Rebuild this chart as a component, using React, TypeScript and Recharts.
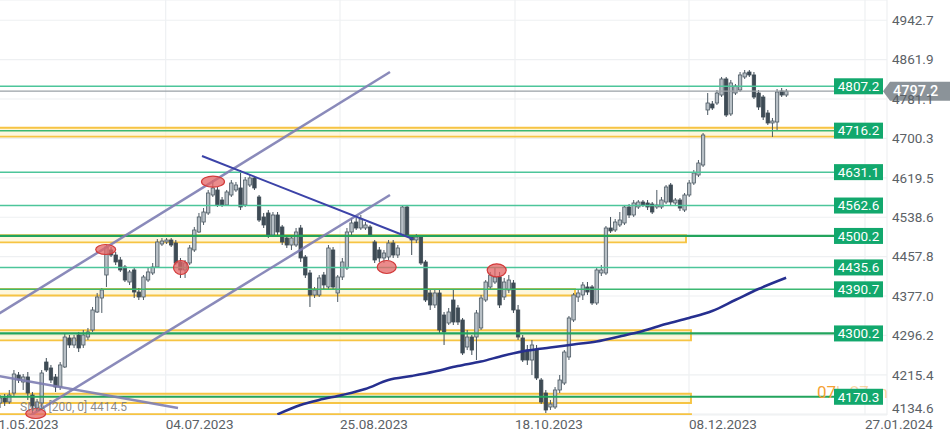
import React from "react";
import {
  Bar,
  CartesianGrid,
  ComposedChart,
  Line,
  ReferenceArea,
  ReferenceDot,
  ReferenceLine,
  XAxis,
  YAxis,
} from "recharts";

// daily candles, [open, high, low, close], first one is bar index -1
const FIRST_INDEX = -1;
const ohlc: [number, number, number, number][] = [
  [4157.5, 4173.9, 4147.3, 4167.8],
  [4167.8, 4176.0, 4151.4, 4159.6],
  [4159.6, 4184.2, 4155.5, 4173.9],
  [4178.0, 4225.2, 4172.0, 4217.0],
  [4214.9, 4221.1, 4198.5, 4204.7],
  [4200.6, 4217.0, 4184.2, 4210.9],
  [4210.9, 4221.1, 4163.7, 4178.0],
  [4173.9, 4180.1, 4137.0, 4151.4],
  [4147.3, 4165.7, 4139.1, 4159.6],
  [4157.5, 4225.2, 4147.3, 4219.1],
  [4241.6, 4249.8, 4221.1, 4225.2],
  [4229.3, 4235.5, 4198.5, 4204.7],
  [4210.9, 4217.0, 4180.1, 4190.3],
  [4190.3, 4241.6, 4184.2, 4235.5],
  [4231.4, 4299.1, 4229.3, 4292.9],
  [4290.9, 4297.0, 4270.4, 4276.5],
  [4276.5, 4297.0, 4270.4, 4290.9],
  [4297.0, 4303.2, 4262.1, 4270.4],
  [4276.5, 4307.3, 4270.4, 4297.0],
  [4292.9, 4311.4, 4286.8, 4303.2],
  [4307.3, 4354.5, 4303.2, 4348.3],
  [4344.2, 4383.2, 4342.2, 4375.0],
  [4372.9, 4393.4, 4342.2, 4389.3],
  [4420.1, 4481.6, 4395.5, 4477.5],
  [4471.4, 4477.5, 4457.0, 4461.1],
  [4461.1, 4467.3, 4440.6, 4446.8],
  [4450.9, 4457.0, 4426.3, 4430.4],
  [4436.5, 4440.6, 4405.7, 4409.8],
  [4405.7, 4430.4, 4399.6, 4426.3],
  [4430.4, 4436.5, 4372.9, 4385.2],
  [4385.2, 4393.4, 4368.8, 4375.0],
  [4375.0, 4420.1, 4368.8, 4416.0],
  [4409.8, 4434.5, 4405.7, 4426.3],
  [4424.2, 4444.7, 4420.1, 4436.5],
  [4436.5, 4493.9, 4434.5, 4487.8],
  [4483.7, 4496.0, 4479.6, 4489.8],
  [4487.8, 4496.0, 4483.7, 4491.9],
  [4491.9, 4496.0, 4477.5, 4481.6],
  [4485.7, 4491.9, 4440.6, 4444.7],
  [4446.8, 4455.0, 4414.0, 4430.4],
  [4430.4, 4450.9, 4414.0, 4444.7],
  [4444.7, 4481.6, 4440.6, 4475.5],
  [4471.4, 4518.6, 4467.3, 4512.4],
  [4508.3, 4547.3, 4506.3, 4539.1],
  [4528.8, 4557.5, 4522.7, 4549.3],
  [4547.3, 4594.5, 4543.2, 4588.3],
  [4584.2, 4614.9, 4580.1, 4598.6],
  [4594.5, 4600.6, 4559.6, 4563.7],
  [4573.9, 4580.1, 4559.6, 4563.7],
  [4563.7, 4594.5, 4561.6, 4590.4],
  [4584.2, 4614.9, 4580.1, 4608.8],
  [4594.5, 4610.9, 4590.4, 4604.7],
  [4598.6, 4635.5, 4553.4, 4559.6],
  [4563.7, 4621.1, 4559.6, 4614.9],
  [4604.7, 4625.2, 4600.6, 4619.1],
  [4619.1, 4623.2, 4594.5, 4598.6],
  [4580.1, 4584.2, 4528.8, 4532.9],
  [4539.1, 4547.3, 4516.5, 4522.7],
  [4547.3, 4553.4, 4496.0, 4502.1],
  [4502.1, 4549.3, 4498.0, 4543.2],
  [4543.2, 4549.3, 4502.1, 4508.3],
  [4518.6, 4522.7, 4481.6, 4487.8],
  [4496.0, 4502.1, 4475.5, 4481.6],
  [4481.6, 4500.1, 4471.4, 4496.0],
  [4481.6, 4516.5, 4477.5, 4508.3],
  [4516.5, 4522.7, 4446.8, 4455.0],
  [4457.0, 4461.1, 4414.0, 4420.1],
  [4424.2, 4430.4, 4354.5, 4379.1],
  [4379.1, 4395.5, 4372.9, 4389.3],
  [4379.1, 4420.1, 4375.0, 4414.0],
  [4420.1, 4426.3, 4389.3, 4399.6],
  [4395.5, 4481.6, 4389.3, 4475.5],
  [4471.4, 4477.5, 4389.3, 4395.5],
  [4383.2, 4420.1, 4364.7, 4416.0],
  [4416.0, 4455.0, 4409.8, 4446.8],
  [4434.5, 4516.5, 4430.4, 4508.3],
  [4508.3, 4537.0, 4502.1, 4526.8],
  [4528.8, 4537.0, 4512.4, 4516.5],
  [4516.5, 4543.2, 4512.4, 4535.0],
  [4516.5, 4528.8, 4512.4, 4522.7],
  [4518.6, 4522.7, 4498.0, 4502.1],
  [4487.8, 4491.9, 4444.7, 4450.9],
  [4471.4, 4477.5, 4446.8, 4455.0],
  [4455.0, 4471.4, 4444.7, 4465.2],
  [4457.0, 4491.9, 4450.9, 4485.7],
  [4485.7, 4491.9, 4455.0, 4461.1],
  [4461.1, 4481.6, 4455.0, 4475.5],
  [4502.1, 4563.7, 4498.0, 4559.6],
  [4559.6, 4563.7, 4498.0, 4502.1],
  [4498.0, 4502.1, 4461.1, 4491.9],
  [4491.9, 4504.2, 4485.7, 4498.0],
  [4498.0, 4502.1, 4440.6, 4444.7],
  [4446.8, 4450.9, 4364.7, 4368.8],
  [4383.2, 4389.3, 4348.3, 4358.6],
  [4358.6, 4389.3, 4352.4, 4383.2],
  [4383.2, 4389.3, 4301.1, 4307.3],
  [4338.0, 4344.2, 4276.5, 4303.2],
  [4321.6, 4352.4, 4317.5, 4344.2],
  [4368.8, 4389.3, 4317.5, 4323.7],
  [4352.4, 4358.6, 4317.5, 4323.7],
  [4327.8, 4331.9, 4256.0, 4260.1],
  [4272.4, 4307.3, 4266.2, 4292.9],
  [4292.9, 4297.0, 4256.0, 4266.2],
  [4292.9, 4348.3, 4245.7, 4342.2],
  [4311.4, 4379.1, 4307.3, 4372.9],
  [4368.8, 4409.8, 4364.7, 4405.7],
  [4395.5, 4426.3, 4389.3, 4420.1],
  [4405.7, 4434.5, 4401.6, 4416.0],
  [4416.0, 4426.3, 4352.4, 4358.6],
  [4375.0, 4414.0, 4368.8, 4405.7],
  [4389.3, 4420.1, 4383.2, 4409.8],
  [4403.7, 4409.8, 4342.2, 4348.3],
  [4348.3, 4358.6, 4286.8, 4292.9],
  [4290.9, 4297.0, 4241.6, 4245.7],
  [4266.2, 4276.5, 4235.5, 4245.7],
  [4245.7, 4286.8, 4214.9, 4276.5],
  [4266.2, 4276.5, 4204.7, 4208.8],
  [4204.7, 4208.8, 4155.5, 4159.6],
  [4178.0, 4184.2, 4137.0, 4143.2],
  [4149.3, 4163.7, 4143.2, 4155.5],
  [4149.3, 4190.3, 4145.2, 4184.2],
  [4184.2, 4214.9, 4178.0, 4204.7],
  [4198.5, 4266.2, 4194.4, 4262.1],
  [4251.9, 4336.0, 4245.7, 4331.9],
  [4327.8, 4383.2, 4323.7, 4379.1],
  [4375.0, 4389.3, 4364.7, 4383.2],
  [4379.1, 4405.7, 4368.8, 4399.6],
  [4395.5, 4405.7, 4379.1, 4385.2],
  [4395.5, 4399.6, 4358.6, 4362.7],
  [4362.7, 4434.5, 4358.6, 4430.4],
  [4424.2, 4440.6, 4418.0, 4430.4],
  [4424.2, 4520.6, 4420.1, 4516.5],
  [4516.5, 4539.1, 4506.3, 4510.4],
  [4512.4, 4535.0, 4508.3, 4528.8],
  [4522.7, 4549.3, 4518.6, 4532.9],
  [4526.8, 4563.7, 4522.7, 4559.6],
  [4559.6, 4565.7, 4537.0, 4543.2],
  [4543.2, 4573.9, 4539.1, 4567.8],
  [4559.6, 4573.9, 4555.5, 4569.8],
  [4569.8, 4573.9, 4559.6, 4563.7],
  [4567.8, 4573.9, 4553.4, 4559.6],
  [4565.7, 4569.8, 4545.2, 4549.3],
  [4559.6, 4594.5, 4555.5, 4563.7],
  [4559.6, 4580.1, 4555.5, 4573.9],
  [4569.8, 4604.7, 4565.7, 4600.6],
  [4604.7, 4608.8, 4563.7, 4569.8],
  [4567.8, 4578.0, 4563.7, 4573.9],
  [4573.9, 4578.0, 4551.4, 4557.5],
  [4553.4, 4588.3, 4549.3, 4584.2],
  [4584.2, 4614.9, 4580.1, 4608.8],
  [4608.8, 4635.5, 4604.7, 4629.3],
  [4625.2, 4656.0, 4621.1, 4649.8],
  [4645.7, 4711.4, 4641.6, 4707.3],
  [4758.6, 4793.4, 4748.3, 4772.9],
  [4770.9, 4777.0, 4758.6, 4762.7],
  [4772.9, 4799.6, 4768.8, 4793.4],
  [4789.3, 4826.3, 4785.2, 4822.2],
  [4822.2, 4826.3, 4744.2, 4748.3],
  [4750.4, 4820.1, 4746.3, 4814.0],
  [4793.4, 4811.9, 4789.3, 4807.8],
  [4799.6, 4836.5, 4795.5, 4830.4],
  [4826.3, 4840.6, 4822.2, 4834.5],
  [4836.5, 4840.6, 4826.3, 4830.4],
  [4830.4, 4836.5, 4781.1, 4785.2],
  [4793.4, 4799.6, 4758.6, 4764.7],
  [4785.2, 4789.3, 4738.0, 4744.2],
  [4752.4, 4758.6, 4727.8, 4731.9],
  [4731.9, 4742.2, 4703.2, 4736.0],
  [4733.9, 4801.6, 4717.5, 4795.5],
  [4797.5, 4803.7, 4785.2, 4789.3],
  [4789.3, 4801.6, 4785.2, 4797.2],
];

// SMA 200 read at some bars
const smaIdx = [59, 64, 68, 73, 78, 83, 88, 93, 98, 103, 108, 113, 118, 123, 128, 133, 138, 143, 148, 153, 158, 163, 169];
const smaVal = [4134.0, 4153.4, 4163.7, 4173.9, 4186.2, 4204.7, 4212.9, 4222.1, 4233.4, 4242.6, 4255.0, 4265.2, 4271.4, 4277.5, 4283.7, 4294.0, 4305.2, 4319.6, 4331.9, 4346.2, 4368.8, 4391.4, 4414.5];

const dateLabels = ["01.05.2023", "04.07.2023", "25.08.2023", "18.10.2023", "08.12.2023", "27.01.2024"];
const datePos = [-2.94, 34.85, 72.54, 110.38, 148.0, 186.05];

const priceTicks = [4134.6, 4215.4, 4296.2, 4377.0, 4457.8, 4538.6, 4619.5, 4700.3, 4781.1, 4861.9, 4942.7];

const levels = [4807.2, 4716.2, 4631.1, 4562.6, 4500.2, 4435.6, 4390.7, 4300.2, 4170.3];
const strongLevels = [4500.2, 4300.2, 4170.3];
const midLevels = [4716.2, 4390.7];
const lastPrice = 4797.2;

// support/resistance zones
const bandLow = [4704.0, 4487.0, 4378.0, 4286.0, 4157.5, 4100.0];
const bandHigh = [4722.0, 4501.5, 4391.4, 4306.7, 4176.6, 4134.4];
const bandEnd = [182.16, 147.35, 123.35, 148.43, 148.43, 148.43];

// drawn trend lines: [bar, price, bar, price]
const channelLines = [
  [-3.135, 4329.4, 83.35, 4836.5],
  [5.08, 4128.8, 83.35, 4584.2],
  [-3.135, 4216.0, 37.51, 4147.3],
];
const blueLine = [42.7, 4664.2, 88.32, 4493.9];

// red markers
const markIdx = [45.08, 21.88, 38.16, 82.64, 106.42, 6.75];
const markPrice = [4611.5, 4472.4, 4435.5, 4436.5, 4429.7, 4136.0];
const markRx = [11.5, 10, 7.5, 9.5, 9.5, 10];
const markRy = [5.5, 5, 7, 6.5, 6.5, 5];

const X_MIN = -3.135;
const X_MAX = 190.81;
const Y_MIN = 4132.9;
const Y_MAX = 4984.2;
const TAG_X = 179.35;
const PRICE_LINE_END = 189.95;

const data = ohlc.map((c, k) => {
  const i = k + FIRST_INDEX;
  const s = smaIdx.indexOf(i);
  return { i, open: c[0], high: c[1], low: c[2], close: c[3], sma: s >= 0 ? smaVal[s] : null };
});

const FONT = "Roboto, 'Noto Sans', sans-serif";

function Candle(props: any) {
  const { x, y, width, height, payload } = props;
  if (!payload || x == null || y == null) return null;
  const { open, close, high, low } = payload;
  const top = Math.min(y, y + height);
  const span = Math.abs(height);
  const k = span / (high - low);
  const yOf = (p: number) => top + (high - p) * k;
  const cx = x + width / 2;
  const up = close >= open;
  const bTop = yOf(Math.max(open, close));
  const bH = Math.max(1, Math.abs(yOf(open) - yOf(close)));
  const dark = "#3e4b55";
  return (
    <g>
      <line x1={cx} x2={cx} y1={top} y2={top + span} stroke={up ? "#4d5a64" : dark} strokeWidth={1} />
      <rect
        x={cx - 1.7}
        y={bTop}
        width={3.4}
        height={bH}
        fill={up ? "#b8c0c6" : dark}
        stroke={up ? "#4d5a64" : dark}
        strokeWidth={0.8}
      />
    </g>
  );
}

function DateTick({ x, payload }: any) {
  const k = datePos.indexOf(payload.value);
  return (
    <text x={x} y={429} fontSize={13.5} fill="#5b6166" fontFamily={FONT}>
      {dateLabels[k]}
    </text>
  );
}

function PriceTick({ y, payload }: any) {
  const v = payload.value as number;
  const dy = v === priceTicks[0] ? -6 : 0;
  return (
    <text x={902} y={y + dy + 4.8} fontSize={13.5} fill="#5b6166" fontFamily={FONT}>
      {v.toFixed(1)}
    </text>
  );
}

function LevelTag({ cx, cy, value }: any) {
  return (
    <g>
      <rect x={cx} y={cy - 8} width={49} height={16} fill="#12a86d" />
      <text x={cx + 24.5} y={cy + 4.8} textAnchor="middle" fontSize={13.5} fill="#fff" fontFamily={FONT}>
        {value.toFixed(1)}
      </text>
    </g>
  );
}

function PriceTag({ cx, cy, value }: any) {
  const l = cx + 49;
  return (
    <g>
      <path
        d={`M${l},${cy} L${l + 7},${cy - 9.5} L${l + 75},${cy - 9.5} L${l + 75},${cy + 9.5} L${l + 7},${cy + 9.5} Z`}
        fill="#8b9399"
      />
      <text x={l + 10} y={cy + 5.2} fontSize={14.5} fontWeight={500} fill="#fff" fontFamily={FONT}>
        {value.toFixed(1)}
      </text>
    </g>
  );
}

function Countdown({ cx, cy }: any) {
  return (
    <text x={cx - 17} y={cy + 1.5} fontSize={17} fill="#f5a234" fontFamily={FONT}>
      07
      <tspan fillOpacity={0.45}>h 27 m</tspan>
    </text>
  );
}

export default function App() {
  return (
    <div style={{ position: "absolute", left: 0, top: 0, width: 950, height: 433, overflow: "hidden", background: "#fff" }}>
      <div style={{ position: "absolute", left: -10, top: 0 }}>
        <ComposedChart width={960} height={433} data={data} margin={{ top: 0, right: 0, bottom: 0, left: 0 }}>
          <CartesianGrid stroke="#eef0f2" strokeWidth={1.2} />
          <XAxis
            type="number"
            dataKey="i"
            domain={[X_MIN, X_MAX]}
            ticks={datePos}
            interval={0}
            allowDataOverflow
            tickLine={false}
            axisLine={false}
            height={18}
            tick={<DateTick />}
          />
          <YAxis
            orientation="right"
            type="number"
            domain={[Y_MIN, Y_MAX]}
            ticks={priceTicks}
            interval={0}
            allowDataOverflow
            tickLine={false}
            axisLine={false}
            width={63}
            tick={<PriceTick />}
          />
          {bandLow.map((lo, k) => (
            <ReferenceArea
              key={"band" + k}
              x1={X_MIN - 1}
              x2={bandEnd[k]}
              y1={lo}
              y2={bandHigh[k]}
              ifOverflow="hidden"
              fill="#fdf0c0"
              fillOpacity={0.55}
              stroke="#f6c443"
              strokeWidth={1.9}
            />
          ))}
          {levels.map((lv) => {
            const strong = strongLevels.includes(lv);
            const mid = midLevels.includes(lv);
            return (
              <ReferenceLine
                key={"lv" + lv}
                segment={[
                  { x: X_MIN, y: lv },
                  { x: TAG_X, y: lv },
                ]}
                stroke={strong ? "#22a45d" : mid ? "#3cb872" : "#4cc59a"}
                strokeWidth={strong ? 2.2 : 1.5}
              />
            );
          })}
          <ReferenceLine
            segment={[
              { x: X_MIN, y: lastPrice },
              { x: PRICE_LINE_END, y: lastPrice },
            ]}
            stroke="#9aa1a6"
            strokeWidth={1.2}
          />
          <Bar dataKey={(d: any) => [d.low, d.high]} barSize={3} shape={<Candle />} isAnimationActive={false} />
          <Line
            type="monotone"
            dataKey="sma"
            connectNulls
            dot={false}
            stroke="#262f8f"
            strokeWidth={2.5}
            isAnimationActive={false}
          />
          {channelLines.map((s, k) => (
            <ReferenceLine
              key={"ch" + k}
              segment={[
                { x: s[0], y: s[1] },
                { x: s[2], y: s[3] },
              ]}
              ifOverflow="hidden"
              stroke="#7d7db3"
              strokeWidth={2.5}
              strokeOpacity={0.9}
            />
          ))}
          <ReferenceLine
            segment={[
              { x: blueLine[0], y: blueLine[1] },
              { x: blueLine[2], y: blueLine[3] },
            ]}
            ifOverflow="hidden"
            stroke="#3c43a8"
            strokeWidth={2}
          />
          {markIdx.map((mx, k) => (
            <ReferenceDot
              key={"mk" + k}
              x={mx}
              y={markPrice[k]}
              r={1}
              shape={(p: any) => (
                <ellipse
                  cx={p.cx}
                  cy={p.cy}
                  rx={markRx[k]}
                  ry={markRy[k]}
                  fill="#e46464"
                  fillOpacity={0.75}
                  stroke="#d23a3a"
                  strokeWidth={1.2}
                />
              )}
            />
          ))}
          <ReferenceDot x={TAG_X} y={levels[levels.length - 1]} r={1} shape={(p: any) => <Countdown cx={p.cx} cy={p.cy} />} />
          {levels.map((lv) => (
            <ReferenceDot
              key={"tag" + lv}
              x={TAG_X}
              y={lv}
              r={1}
              shape={(p: any) => <LevelTag cx={p.cx} cy={p.cy} value={lv} />}
            />
          ))}
          <ReferenceDot x={TAG_X} y={lastPrice} r={1} shape={(p: any) => <PriceTag cx={p.cx} cy={p.cy} value={lastPrice} />} />
        </ComposedChart>
      </div>
      <div
        style={{
          position: "absolute",
          left: 20,
          top: 400,
          fontFamily: FONT,
          fontSize: 12,
          lineHeight: "14px",
          color: "rgba(120,120,120,0.85)",
          whiteSpace: "nowrap",
        }}
      >
        SMA [200, 0] 4414.5
      </div>
    </div>
  );
}
